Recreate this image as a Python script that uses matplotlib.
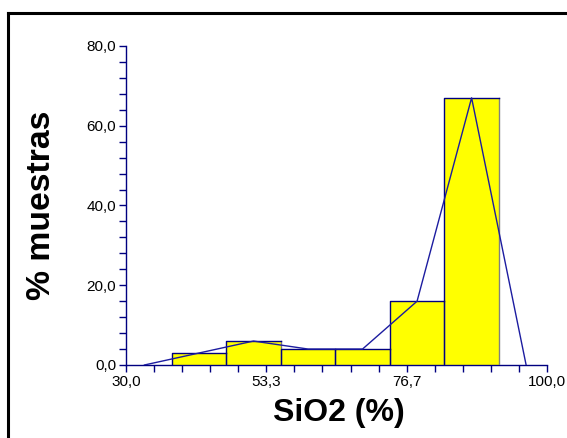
import numpy as np
import matplotlib
matplotlib.use("Agg")
import matplotlib.pyplot as plt
from matplotlib.lines import Line2D

plt.rcParams['font.family'] = ['Liberation Sans', 'DejaVu Sans']

# Histogram of SiO2 content
bin_edges = [37.6, 46.67, 55.73, 64.8, 73.87, 82.93, 92.0]
percent = [3.0, 6.0, 4.0, 4.0, 16.0, 67.0]

x_major = [30.0, 53.3333, 76.6667, 100.0]
x_major_labels = ["30,0", "53,3", "76,7", "100,0"]
y_major = [0, 20, 40, 60, 80]
y_major_labels = ["0,0", "20,0", "40,0", "60,0", "80,0"]

navy = "#000080"
poly_col = "#1c1ca0"

fig = plt.figure(figsize=(5.67, 4.38), dpi=100)
ax = fig.add_axes([0.2222, 0.1667, 0.9647 - 0.2222, 0.895 - 0.1667])

edges = np.array(bin_edges)
lefts = edges[:-1]
widths = np.diff(edges)
centers = lefts + widths / 2

for l, w, h in zip(lefts, widths, percent):
    ax.bar(l, h, width=w, align='edge', color="#ffff00", edgecolor='none', zorder=2)
    ax.plot([l + w, l + w], [0, h], color="#808080", lw=1.0, zorder=3)
    ax.plot([l, l, l + w], [0, h, h], color=navy, lw=1.0, zorder=3)

# Frequency polygon through bin midpoints, closed at the neighbouring empty bins
step = widths.mean()
px = np.concatenate([[centers[0] - step], centers, [centers[-1] + step]])
py = np.concatenate([[0.0], percent, [0.0]])
ax.plot(px, py, color=poly_col, lw=1.0, zorder=4)

ax.set_xlim(30, 100)
ax.set_ylim(0, 80)

ax.set_xticks(x_major)
ax.set_xticklabels(x_major_labels)
ax.set_xticks(np.linspace(30, 100, 16), minor=True)
ax.set_yticks(y_major)
ax.set_yticklabels(y_major_labels)
ax.set_yticks(np.arange(0, 81, 4), minor=True)

for s in ['top', 'right']:
    ax.spines[s].set_visible(False)
for s in ['left', 'bottom']:
    ax.spines[s].set_color(navy)
    ax.spines[s].set_linewidth(1.0)

ax.tick_params(which='both', direction='out', color=navy, width=1.0,
               labelsize=11, labelcolor='black')
ax.tick_params(which='major', length=5, pad=2)
ax.tick_params(which='minor', length=5)

ax.set_xlabel("SiO2 (%)", fontsize=23, fontweight='bold', labelpad=11)
ax.xaxis.set_label_coords(0.505, -0.105)
ax.set_ylabel("% muestras", fontsize=24.3, fontweight='bold', labelpad=21)

# Outer frame (top and left sides)
fig.add_artist(Line2D([8 / 567, 8 / 567], [0, 1 - 13 / 438], transform=fig.transFigure,
                      color='black', lw=2.2))
fig.add_artist(Line2D([8 / 567, 1], [1 - 13 / 438, 1 - 13 / 438], transform=fig.transFigure,
                      color='black', lw=2.2))

fig.savefig("out.png", dpi=100)
